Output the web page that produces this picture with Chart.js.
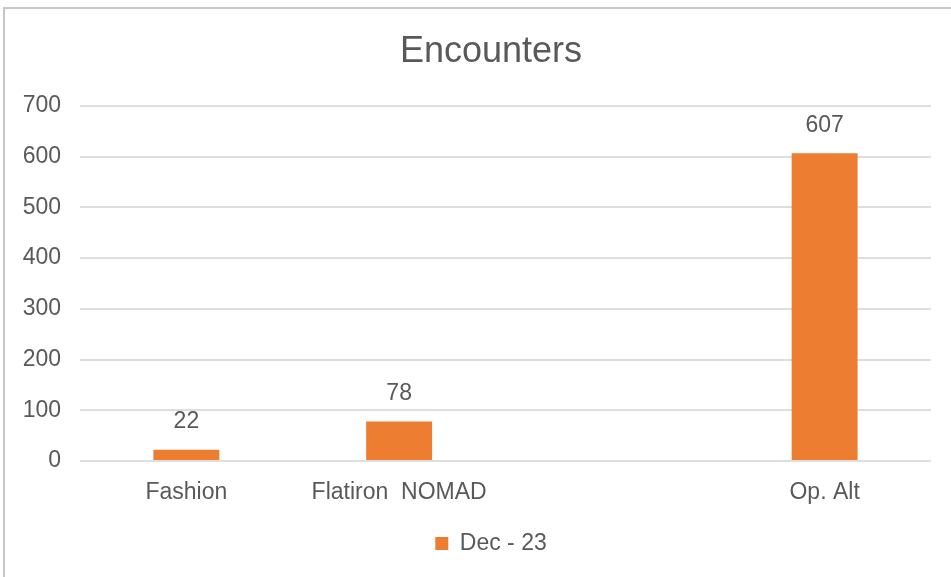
<!DOCTYPE html>
<html>
<head>
<meta charset="utf-8">
<script src="https://cdn.jsdelivr.net/npm/chart.js@4"></script>
<style>
  html, body { margin: 0; padding: 0; background: #ffffff; overflow: hidden; }
  #wrap { position: relative; width: 951px; height: 577px; }
  #frame { position: absolute; left: 3px; top: 7px; width: 1000px; height: 700px;
           border-left: 2px solid #c6c6c6; border-top: 2px solid #c6c6c6; box-sizing: border-box; }
  canvas { position: absolute; left: 0; top: 0; }
</style>
</head>
<body>
<div id="wrap">
  <div id="frame"></div>
  <canvas id="c"></canvas>
</div>
<script>
const categories = ['Fashion', 'Flatiron  NOMAD', '', 'Op. Alt'];
const seriesName = 'Dec - 23';
const encounters = [22, 78, null, 607];
const yTicks = [0, 100, 200, 300, 400, 500, 600, 700];

const textColor = '#595959';
const barColor = '#ED7D31';
const fontFamily = '"Liberation Sans", Arial, Helvetica, sans-serif';
const tickSize = 23;

// widest y tick label, used to right-align mirrored labels left of the plot
const mctx = document.createElement('canvas').getContext('2d');
mctx.font = tickSize + 'px ' + fontFamily;
const widestTick = Math.max(...yTicks.map(v => mctx.measureText(String(v)).width));
const tickGap = 19;

const valueLabels = {
  id: 'valueLabels',
  afterDatasetsDraw(chart) {
    const ctx = chart.ctx;
    ctx.save();
    ctx.fillStyle = textColor;
    ctx.font = tickSize + 'px ' + fontFamily;
    ctx.textAlign = 'center';
    ctx.textBaseline = 'middle';
    chart.data.datasets.forEach((ds, di) => {
      const meta = chart.getDatasetMeta(di);
      meta.data.forEach((bar, i) => {
        const v = ds.data[i];
        if (v === null || v === undefined) return;
        ctx.fillText(String(v), bar.x, bar.y - 28);
      });
    });
    ctx.restore();
  }
};

new Chart(document.getElementById('c'), {
  type: 'bar',
  data: {
    labels: categories,
    datasets: [{
      label: seriesName,
      data: encounters,
      backgroundColor: barColor,
      borderWidth: 0,
      categoryPercentage: 1,
      barPercentage: 0.31
    }]
  },
  options: {
    responsive: true,
    maintainAspectRatio: false,
    animation: false,
    layout: { padding: { left: 51, right: 20, top: 0, bottom: 12 } },
    plugins: {
      title: {
        display: true,
        text: 'Encounters',
        color: textColor,
        font: { family: fontFamily, size: 36, weight: 'normal' },
        padding: { top: 30.4, bottom: 32.4 }
      },
      legend: {
        display: true,
        position: 'bottom',
        labels: {
          color: textColor,
          font: { family: fontFamily, size: tickSize },
          boxWidth: 13,
          boxHeight: 13,
          padding: 10
        }
      },
      tooltip: { enabled: false }
    },
    scales: {
      x: {
        grid: { display: false, drawTicks: false },
        border: { display: false },
        ticks: {
          color: textColor,
          font: { family: fontFamily, size: tickSize },
          padding: 17.5,
          autoSkip: false,
          maxRotation: 0,
          minRotation: 0
        },
        afterFit(scale) { scale.height = 61; }
      },
      y: {
        min: 0,
        max: 700,
        grid: { color: '#dedede', lineWidth: 2, drawTicks: false },
        border: { display: false },
        afterBuildTicks(scale) { scale.ticks = yTicks.map(v => ({ value: v })); },
        ticks: {
          color: textColor,
          font: { family: fontFamily, size: tickSize },
          mirror: true,
          crossAlign: 'far',
          padding: -(tickGap + widestTick)
        },
        afterFit(scale) { scale.width = 29; }
      }
    }
  },
  plugins: [valueLabels]
});
</script>
</body>
</html>
